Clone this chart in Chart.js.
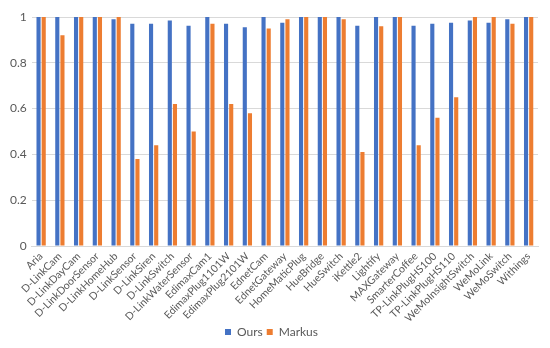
<!DOCTYPE html>
<html>
<head>
<meta charset="utf-8">
<script src="https://cdn.jsdelivr.net/npm/chart.js@4"></script>
<style>
  html, body { margin: 0; padding: 0; background: #fff; }
  #chart { display: block; }
</style>
</head>
<body>
<canvas id="chart" width="550" height="348"></canvas>
<script>
// ── Data ──────────────────────────────────────────────────────────────────────
const devices = [
  "Aria", "D-LinkCam", "D-LinkDayCam", "D-LinkDoorSensor", "D-LinkHomeHub",
  "D-LinkSensor", "D-LinkSiren", "D-LinkSwitch", "D-LinkWaterSensor", "EdimaxCam1",
  "EdimaxPlug1101W", "EdimaxPlug2101W", "EdnetCam", "EdnetGateway", "HomeMaticPlug",
  "HueBridge", "HueSwitch", "iKettle2", "Lightify", "MAXGateway", "SmarterCoffee",
  "TP-LinkPlugHS100", "TP-LinkPlugHS110", "WeMoInsightSwitch", "WeMoLink",
  "WeMoSwitch", "Withings"
];

const ours = [
  1, 1, 1, 1, 0.99,
  0.97, 0.97, 0.985, 0.962, 1,
  0.97, 0.955, 1, 0.975, 1,
  1, 1, 0.962, 1, 1, 0.962,
  0.97, 0.975, 0.985, 0.975,
  0.99, 1
];

const markus = [
  1, 0.92, 1, 1, 1,
  0.38, 0.44, 0.62, 0.5, 0.97,
  0.62, 0.58, 0.95, 0.99, 1,
  1, 0.99, 0.41, 0.96, 1, 0.44,
  0.56, 0.65, 1, 1,
  0.97, 1
];

const yTicks = [0, 0.2, 0.4, 0.6, 0.8, 1];

// ── Chart ─────────────────────────────────────────────────────────────────────
const FONT = 'Lato, "Noto Sans", sans-serif';
const GREY = "#595959";

new Chart(document.getElementById("chart"), {
  type: "bar",
  data: {
    labels: devices,
    datasets: [
      { label: "Ours", data: ours, backgroundColor: "#4472C4" },
      { label: "Markus", data: markus, backgroundColor: "#ED7D31" },
    ],
  },
  options: {
    responsive: false,
    animation: false,
    layout: { padding: { left: 5, right: 12, top: 17, bottom: 0 } },
    datasets: { bar: { categoryPercentage: 0.55, barPercentage: 0.8 } },
    plugins: {
      legend: {
        position: "bottom",
        labels: { color: GREY, font: { family: FONT, size: 12 }, boxWidth: 6, boxHeight: 6, padding: 4 },
      },
      tooltip: { enabled: false },
    },
    scales: {
      x: {
        grid: { display: false, drawTicks: false },
        border: { color: "#d9d9d9" },
        ticks: { color: GREY, font: { family: FONT, size: 10.5 }, maxRotation: 45, minRotation: 45, autoSkip: false, padding: 4 },
        afterFit: axis => { axis.height = 76; },
      },
      y: {
        min: 0,
        max: 1,
        afterBuildTicks: axis => { axis.ticks = yTicks.map(v => ({ value: v })); },
        grid: { color: "#d9d9d9", drawTicks: false },
        border: { display: false },
        ticks: { color: GREY, font: { family: FONT, size: 12 }, padding: 5, callback: v => String(v) },
      },
    },
  },
});
</script>
</body>
</html>
